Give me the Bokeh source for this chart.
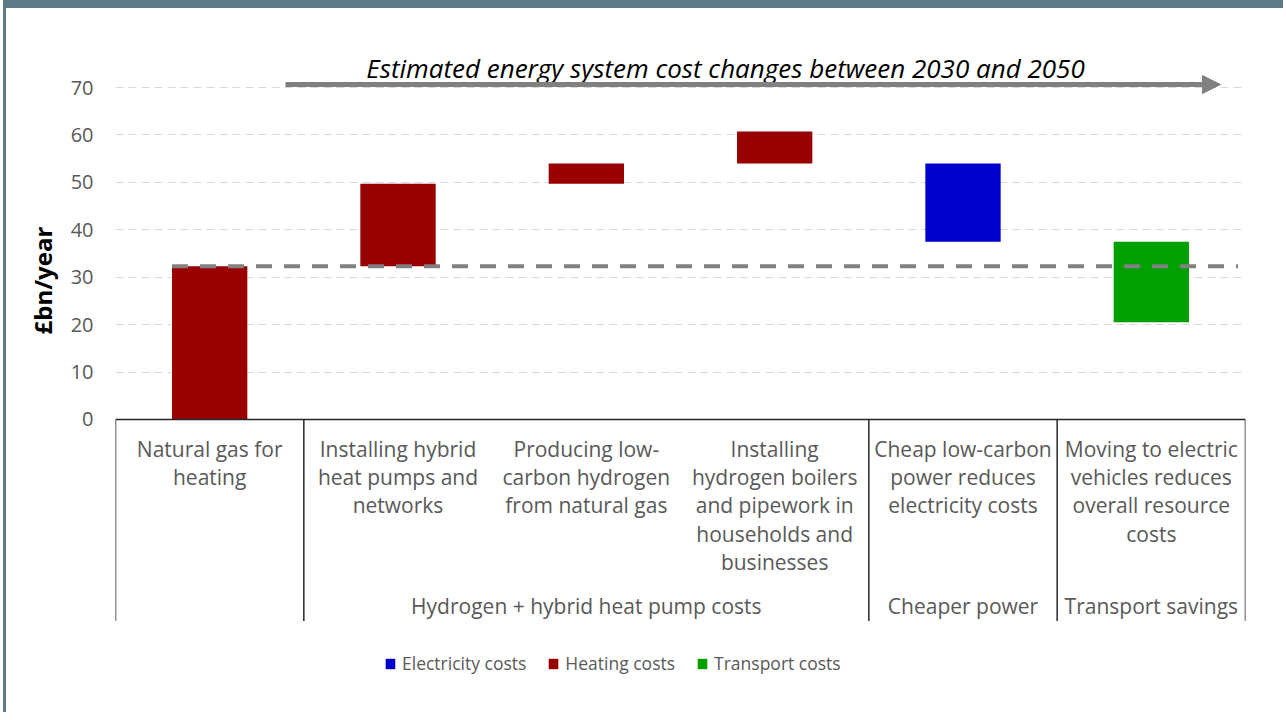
import numpy as np
from bokeh.plotting import figure
from bokeh.models import (Range1d, FixedTicker, Title, Arrow, NormalHead,
                          Legend, LegendItem, ColumnDataSource)
from bokeh.core.properties import value
from bokeh.embed import file_html
from bokeh.resources import INLINE

# ---------------- data ----------------
categories = [
    "Natural gas for\nheating",
    "Installing hybrid\nheat pumps and\nnetworks",
    "Producing low-\ncarbon hydrogen\nfrom natural gas",
    "Installing\nhydrogen boilers\nand pipework in\nhouseholds and\nbusinesses",
    "Cheap low-carbon\npower reduces\nelectricity costs",
    "Moving to electric\nvehicles reduces\noverall resource\ncosts",
]
groups = [
    "",
    "Hydrogen + hybrid heat pump costs",
    "Hydrogen + hybrid heat pump costs",
    "Hydrogen + hybrid heat pump costs",
    "Cheaper power",
    "Transport savings",
]
bar_bottom = [0.0, 32.3, 49.7, 54.0, 37.5, 20.5]
bar_top = [32.3, 49.7, 54.0, 60.7, 54.0, 37.5]
cost_type = ["Heating costs", "Heating costs", "Heating costs", "Heating costs",
             "Electricity costs", "Transport costs"]
series = ["Electricity costs", "Heating costs", "Transport costs"]
series_colors = ["#0000CC", "#990000", "#00A000"]
y_ticks = [0, 10, 20, 30, 40, 50, 60, 70]
title_text = "Estimated energy system cost changes between 2030 and 2050"
y_label = "£bn/year"

FONT = "Open Sans"
GREY_TXT = "#595959"

# ---------------- figure ----------------
n = len(categories)
xc = np.arange(n) + 0.5

p = figure(width=1280, height=712,
           x_range=Range1d(0, n), y_range=Range1d(-59.25, 82.02),
           output_backend="svg", toolbar_location=None,
           x_axis_location=None, title=None,
           min_border_left=109, min_border_right=41,
           min_border_top=22, min_border_bottom=20)
p.styles = {"border-top": "8px solid #5E7A86",
            "border-left": "3px solid #5E7A86",
            "margin-left": "3px"}
p.outline_line_color = None
p.background_fill_color = "white"
p.border_fill_color = "white"
p.xgrid.visible = False

# y axis
p.yaxis.ticker = FixedTicker(ticks=y_ticks)
p.yaxis.axis_line_color = None
p.yaxis.major_tick_line_color = None
p.yaxis.minor_tick_line_color = None
p.yaxis.major_tick_out = 0
p.yaxis.major_tick_in = 0
p.yaxis.major_label_standoff = 22
p.yaxis.major_label_text_font = FONT
p.yaxis.major_label_text_font_size = "20px"
p.yaxis.major_label_text_color = GREY_TXT
p.ygrid.grid_line_color = "#D9D9D9"
p.ygrid.grid_line_dash = "8 5"
p.ygrid.grid_line_width = 1

# y axis title (left side panel, shifted up to the reference position)
p.add_layout(Title(text=y_label, align="left", offset=366, standoff=18,
                   text_font=FONT, text_font_style="bold",
                   text_font_size="24px", text_color="black"), "left")

# bars
renderers = {}
for s, c in zip(series, series_colors):
    idx = [i for i, t in enumerate(cost_type) if t == s]
    src = ColumnDataSource(dict(x=xc[idx],
                                top=[bar_top[i] for i in idx],
                                bottom=[bar_bottom[i] for i in idx]))
    renderers[s] = p.vbar(x="x", top="top", bottom="bottom", width=0.4,
                          source=src, fill_color=c, line_color=None)

# dashed reference line at natural-gas level
base = bar_top[0]
p.segment(x0=[xc[0] - 0.2], x1=[5.96], y0=[base], y1=[base],
          line_color="#808080", line_width=4, line_dash="16 12")

# category box
y_box = -42.5
p.segment(x0=[0], x1=[n], y0=[0], y1=[0], line_color="#262626", line_width=1.5)
bounds = [0] + [i for i in range(1, n) if groups[i] != groups[i - 1]] + [n]
p.segment(x0=bounds, x1=bounds, y0=[0] * len(bounds), y1=[y_box] * len(bounds),
          line_color="#262626", line_width=1.5)

# category labels
p.text(x=xc, y=[-3.2] * n, text=categories, text_align="center",
       text_baseline="top", text_font=value(FONT), text_font_size="21px",
       text_color=GREY_TXT, text_line_height=1.01)

# group labels
gx, gt = [], []
for a, b in zip(bounds[:-1], bounds[1:]):
    if groups[a]:
        gx.append((a + b) / 2)
        gt.append(groups[a])
p.text(x=gx, y=[-39.4] * len(gx), text=gt, text_align="center",
       text_baseline="middle", text_font=value(FONT), text_font_size="21px",
       text_color=GREY_TXT)

# title text + arrow
p.text(x=[3.239], y=[74.2], text=[title_text], text_align="center",
       text_baseline="middle", text_font=value(FONT), text_font_size="26px",
       text_font_style="italic", text_color="black")
p.add_layout(Arrow(x_start=0.9027, y_start=70.63, x_end=5.867, y_end=70.63,
                   line_color="#808080", line_width=5,
                   end=NormalHead(size=18, fill_color="#808080",
                                  line_color="#808080", line_width=1)))

# legend
legend = Legend(items=[LegendItem(label=s, renderers=[renderers[s]]) for s in series],
                orientation="horizontal", location=(269, 25),
                glyph_width=12, glyph_height=13, label_standoff=6, spacing=21,
                padding=0, margin=0, border_line_color=None,
                background_fill_alpha=0, label_text_font=FONT,
                label_text_font_size="17.5px", label_text_color=GREY_TXT)
p.add_layout(legend)

open("out.html", "w").write(file_html(p, INLINE))
